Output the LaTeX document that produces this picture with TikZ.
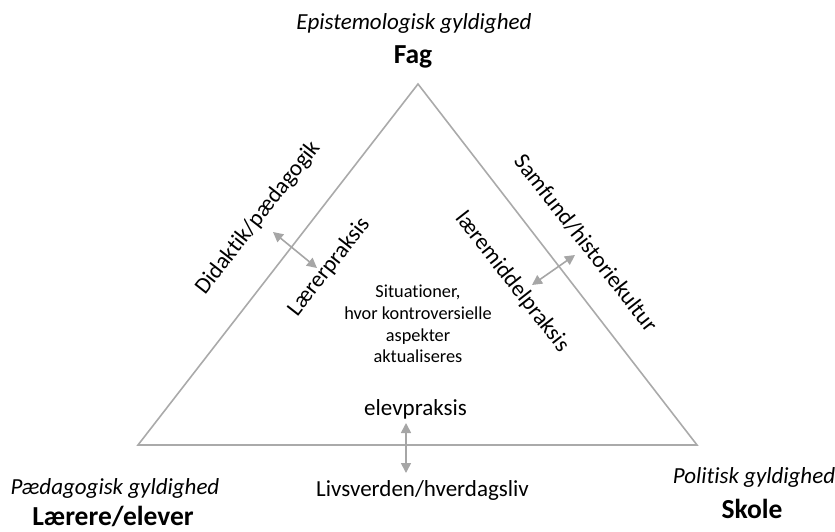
\documentclass[tikz,border=0pt]{standalone}
\usepackage{fontspec}
\setmainfont{Carlito}[Ligatures={NoCommon}]
\usetikzlibrary{arrows.meta}
\definecolor{tri}{RGB}{170,170,170}
\definecolor{arr}{RGB}{166,166,166}
\tikzset{
  body/.style={font=\fontsize{18.3}{21.7}\selectfont, inner sep=0pt, align=center},
  lab/.style={font=\fontsize{23}{26}\selectfont, inner sep=0pt},
  ital/.style={font=\fontsize{23}{26}\selectfont\itshape, inner sep=0pt},
  big/.style={font=\fontsize{27.5}{30}\selectfont\bfseries, inner sep=0pt},
  dbl/.style={draw=arr, line width=1.6pt, {Triangle[length=10pt,width=10pt]}-{Triangle[length=10pt,width=10pt]}, fill=arr},
}
\begin{document}
\begin{tikzpicture}[x=1pt,y=-1pt]
\useasboundingbox (0,0) rectangle (835,531);
\coordinate (A) at (418,84);
\coordinate (B) at (138,445);
\coordinate (C) at (697,445);
\draw[tri, line width=1.6pt, line join=miter] (A) -- (B) -- (C) -- cycle;

\node[ital] (epi) at (414,23) {Epistemologisk gyldighed};
\node[big] (fag) at (413,57) {Fag};
\node[ital] (paed) at (115,488) {Pædagogisk gyldighed};
\node[big] (lae) at (113,516) {Lærere/elever};
\node[ital] (pol) at (754,477) {Politisk gyldighed};
\node[big] (sko) at (752,509) {Skole};

\node[lab, rotate=52] (did) at (258,218) {Didaktik/pædagogik};
\node[lab, rotate=52] (lp) at (329,267) {Lærerpraksis};
\node[lab, rotate=-52] (sam) at (586,243) {Samfund/historiekultur};
\node[lab, rotate=-52] (lm) at (512,282) {læremiddelpraksis};

\node[body] (sit) at (418,324) {Situationer,\\hvor kontroversielle\\aspekter\\aktualiseres};
\node[lab] (elev) at (415.5,409) {elevpraksis};
\node[lab] (liv) at (422.5,490) {Livsverden/hverdagsliv};

\coordinate (l1) at (273,232);
\coordinate (l2) at (317,268);
\coordinate (r1) at (575,255);
\coordinate (r2) at (532,285);
\coordinate (b1) at (406,423);
\coordinate (b2) at (406,473);
\draw[dbl] (l1) -- (l2);
\draw[dbl] (r1) -- (r2);
\draw[dbl] (b1) -- (b2);
\end{tikzpicture}
\end{document}
